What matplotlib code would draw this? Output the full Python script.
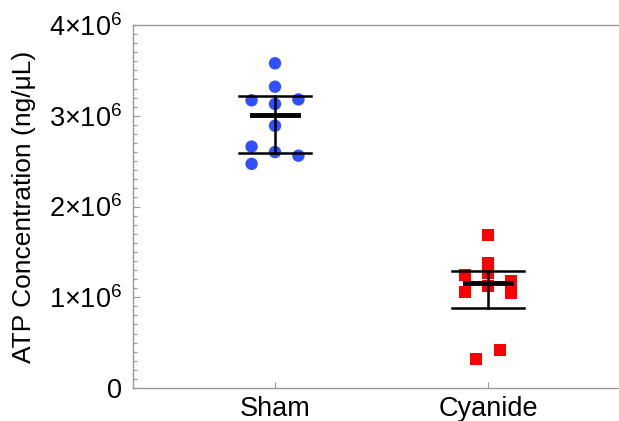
import numpy as np
import matplotlib.pyplot as plt
from matplotlib.ticker import MultipleLocator, FixedLocator

plt.rcParams['font.family'] = ['Liberation Sans', 'DejaVu Sans']
plt.rcParams['mathtext.fontset'] = 'custom'
plt.rcParams['mathtext.rm'] = 'Liberation Sans'
plt.rcParams['mathtext.it'] = 'Liberation Sans:italic'

groups = ["Sham", "Cyanide"]
sham = [3.578e6, 3.32e6, 3.17e6, 3.18e6, 3.13e6, 2.89e6, 2.66e6, 2.60e6, 2.56e6, 2.47e6]
sham_dx = [0, 0, -0.11, 0.11, 0, 0, -0.11, 0, 0.11, -0.11]
cyanide = [1.686e6, 1.381e6, 1.245e6, 1.264e6, 1.182e6, 1.124e6, 1.054e6, 1.043e6, 0.419e6, 0.316e6]
cyan_dx = [0, 0, -0.11, 0, 0.11, 0, -0.11, 0.11, 0.055, -0.055]
yticks = [0, 1e6, 2e6, 3e6, 4e6]
ytick_labels = ["0", r"$1{\times}10^{6}$", r"$2{\times}10^{6}$", r"$3{\times}10^{6}$", r"$4{\times}10^{6}$"]

fig = plt.figure(figsize=(6.19, 4.21), dpi=100)
ax = fig.add_axes([133/619, 33/421, 1 - 133/619, 363/421])

for i, (vals, dx, col, mk) in enumerate([(sham, sham_dx, '#3050FF', 'o'),
                                        (cyanide, cyan_dx, '#FF0000', 's')]):
    x = i + 1
    ax.scatter(np.array(dx) + x, vals, s=80 if mk == 'o' else 75, marker=mk,
               color=col, edgecolors='none', zorder=2)
    # median with interquartile range
    q1, med, q3 = np.percentile(vals, [25, 50, 75], method='weibull')
    ax.plot([x, x], [q1, q3], color='black', lw=1.8, zorder=3)
    ax.plot([x - 0.17, x + 0.17], [q1, q1], color='black', lw=1.8, zorder=3)
    ax.plot([x - 0.17, x + 0.17], [q3, q3], color='black', lw=1.8, zorder=3)
    ax.plot([x - 0.11, x + 0.11], [med, med], color='black', lw=3.5, zorder=3)

ax.set_xlim(1 - 142/213, 2 + 131/213)
ax.set_ylim(0, 4e6)
ax.set_xticks([1, 2])
ax.set_xticklabels(groups, fontsize=19.5)
ax.tick_params(axis='x', direction='in', length=4, width=0.8, color='#999999', pad=6)
ax.yaxis.set_major_locator(FixedLocator(yticks))
ax.set_yticklabels(ytick_labels, fontsize=19.5)
ax.yaxis.set_minor_locator(MultipleLocator(1e5))
ax.tick_params(axis='y', which='major', direction='in', length=5, width=0.8,
               color='#999999', pad=8)
ax.tick_params(axis='y', which='minor', direction='in', length=3, width=0.8,
               color='#999999')
ax.set_ylabel("ATP Concentration (ng/μL)", fontsize=19, labelpad=9)

for s in ['left', 'top', 'bottom']:
    ax.spines[s].set_color('#999999')
    ax.spines[s].set_linewidth(1.0)
ax.spines['right'].set_visible(False)

fig.savefig('out.png', dpi=100)
